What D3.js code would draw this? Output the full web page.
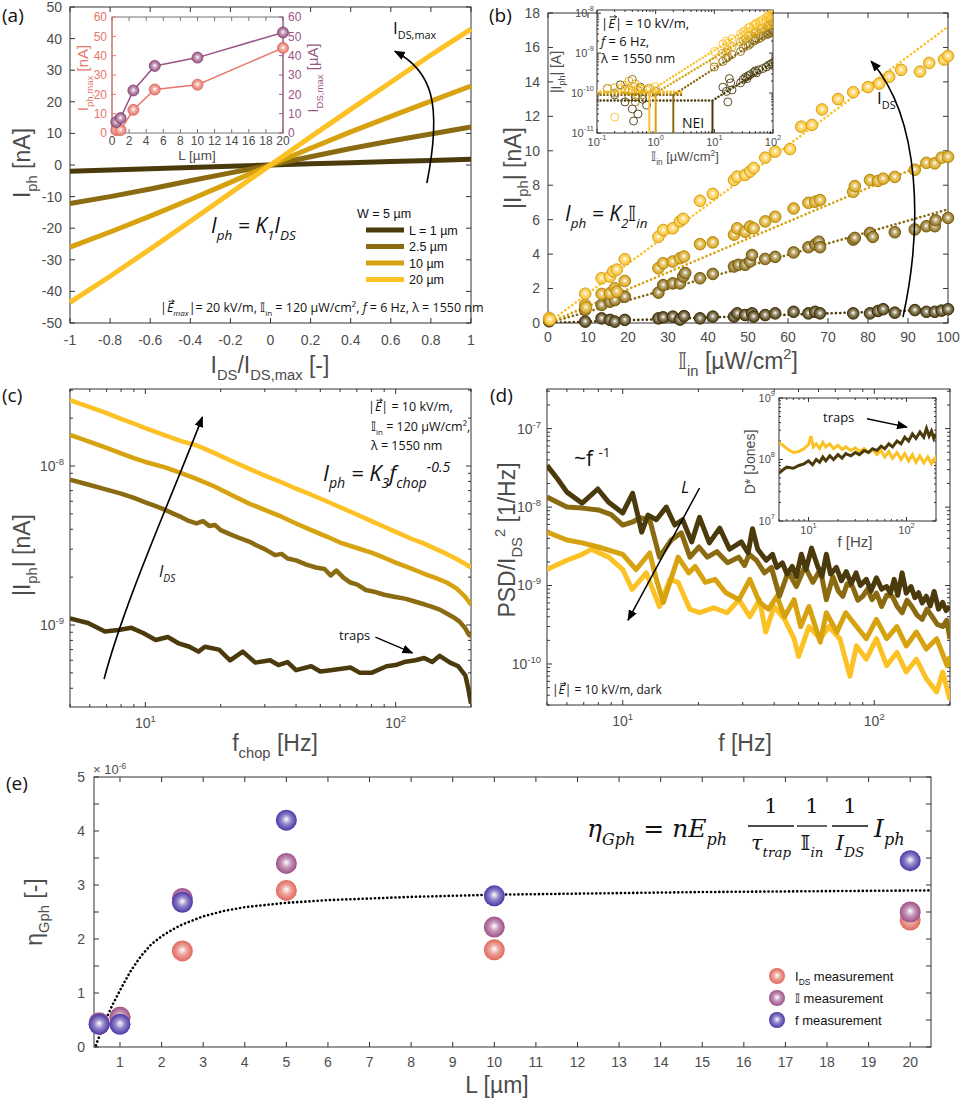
<!DOCTYPE html>
<html>
<head>
<meta charset="utf-8">
<script src="https://cdn.jsdelivr.net/npm/d3@7"></script>
<style>
body { margin: 0; background: #fff; }
text { font-family: "Liberation Sans", Arial, sans-serif; }
.note { font-family: "Open Sans", "Noto Sans", sans-serif; }
</style>
</head>
<body>
<svg id="fig" width="961" height="1108"></svg>
<script>
// ---------- data ----------
const lengthColors = ['#4b3b0c', '#8b6b12', '#d7a20f', '#fcc125'] // L = 1, 2.5, 10, 20 um
const legendLabels = ['L = 1 \u00b5m', '2.5 \u00b5m', '10 \u00b5m', '20 \u00b5m']

// (a) I_ph vs I_DS/I_DS,max
const ratioX = [-1, -0.8, -0.6, -0.4, -0.2, 0, 0.2, 0.4, 0.6, 0.8, 1]
const iphL1 = [-2.0, -1.6, -1.2, -0.8, -0.4, 0, 0.4, 0.75, 1.1, 1.45, 1.8]
const iphL25 = [-12.2, -10.0, -7.6, -5.0, -2.5, 0, 2.6, 5.2, 7.6, 9.8, 12.0]
const iphL10 = [-26.0, -21.2, -16.2, -10.9, -5.5, 0, 5.3, 10.5, 15.4, 20.2, 25.0]
const iphL20 = [-43.5, -35.2, -26.6, -17.8, -8.9, 0, 8.9, 17.6, 26.2, 34.8, 43.0]

// (a) inset
const insetL = [0.5, 1, 2.5, 5, 10, 20]
const iphMax = [1.5, 1.5, 12, 22.5, 25, 44]
const idsMax = [5.7, 7.7, 22, 34.7, 39, 52]

// (b) |I_ph| vs intensity  [uW/cm2, nA]
const bL1 = [[0.3,0.1],[9.3,0.08],[13.4,0.27],[15.5,0.18],[16.7,0.08],[19.2,0.18],[27.6,0.27],[28.8,0.33],[31.2,0.37],[33,0.2],[34,0.4],[38,0.27],[41.2,0.37],[46.5,0.37],[47.3,0.56],[49.3,0.46],[51,0.56],[51.4,0.37],[54.3,0.46],[56.8,0.56],[61.4,0.65],[65.1,0.56],[66.8,0.65],[68,0.56],[76.3,0.56],[80.5,0.56],[82.5,0.7],[83.8,0.8],[86.7,0.6],[91.7,0.75],[94.6,0.65],[96.7,0.65],[98.4,0.72],[100,0.8]]
const bL25 = [[0.3,0.15],[9.3,0.76],[13.4,1.05],[15.5,1.24],[16.7,1.33],[19.2,1.53],[27.6,1.76],[28.8,2.2],[31.2,2.3],[33,2.3],[33.8,2.7],[34.3,2.9],[38,2.6],[41.2,2.85],[46.5,3.28],[47.6,3.38],[49.3,3.38],[50.5,3.57],[51,3.95],[54.3,3.72],[56.8,3.84],[61.4,4.1],[65.1,4.4],[66.8,4.56],[67.7,4.72],[68,4.4],[76.3,4.84],[76.7,4.94],[80.5,5.23],[81.2,5.0],[86.7,5.27],[91.7,5.43],[94.6,5.62],[96.7,5.62],[96.9,5.97],[100,6.1]]
const bL10 = [[0.3,0.2],[9.3,1.05],[9.5,0.9],[13.4,1.69],[15.5,1.73],[16.7,2.02],[17.2,1.83],[19.2,2.44],[27.6,3.18],[28.8,3.47],[31.2,3.57],[33,3.76],[34,3.86],[38,4.58],[41.2,4.68],[46.5,5.13],[47.3,5.5],[49.3,5.3],[50.5,5.6],[51.4,5.5],[54.3,5.9],[56.8,6.17],[61.4,6.65],[65.1,6.98],[66.8,7.04],[68,7.14],[76.3,7.62],[76.7,7.95],[80.5,8.3],[82.5,8.25],[83.8,8.38],[86.7,8.48],[91.7,8.9],[94.6,9.3],[96.7,9.27],[98.4,9.6],[100,9.65]]
const bL20 = [[0.3,0.3],[0.5,0.2],[9.3,1.7],[13.4,2.6],[15.5,2.7],[16.3,3.0],[17.2,3.1],[19.2,3.7],[27.6,5.0],[28.8,5.4],[31.2,5.5],[33,5.9],[33.8,6.05],[38,7.1],[41.2,7.5],[46.5,8.3],[47.3,8.5],[49.3,8.6],[50.5,8.8],[51.4,9.0],[54.3,9.6],[56.8,9.95],[60.5,10.1],[63.3,11.4],[66,11.5],[68.5,12.4],[72.5,13.0],[76.3,13.4],[80,13.7],[82.8,13.9],[85.3,14.3],[88.3,14.7],[93,14.6],[95.3,15.1],[99,15.3],[100,15.5]]
const bFitEnd = [0.8, 6.6, 9.8, 17.2] // fitted I_ph at 100 uW/cm2

// (b) inset, log-log  [uW/cm2, A]
const biL1 = [[0.15,1.3e-10],[0.2,9e-11],[0.25,1.6e-10],[0.3,6e-11],[0.35,1.2e-10],[0.4,4e-11],[0.42,2e-11],[0.45,8e-11],[0.5,3e-11],[0.55,1.4e-10],[0.6,7e-11],[0.7,5e-11],[1.0,1.1e-10],[14,1.4e-10],[16,1.1e-10],[17,6e-11],[18,2.3e-10],[19,1.8e-10],[20,1.2e-10],[28,1.8e-10],[31,2.2e-10],[34,2.5e-10],[36,2.3e-10],[38,2.7e-10],[41,2.9e-10],[47,3.3e-10],[50,3.6e-10],[52,3.2e-10],[57,3.8e-10],[67,4.1e-10],[77,4.5e-10],[84,5.0e-10],[92,5.3e-10],[100,5.8e-10]]
const biL25 = [[0.2,1.0e-10],[0.3,1.25e-10],[0.35,8e-11],[0.4,2.2e-10],[0.45,6e-11],[0.5,1.15e-10],[0.6,9e-11],[0.75,1.3e-10],[10,4.5e-10],[14,6.2e-10],[16,7.4e-10],[17,8e-10],[20,9.2e-10],[28,1.1e-9],[31,1.35e-9],[34,1.6e-9],[38,1.55e-9],[41,1.7e-9],[47,2.0e-9],[50,2.1e-9],[52,2.35e-9],[57,2.3e-9],[62,2.45e-9],[67,2.7e-9],[77,2.9e-9],[81,3.1e-9],[84,3.0e-9],[88,3.2e-9],[93,3.3e-9],[97,3.5e-9],[100,3.7e-9]]
const biL10 = [[0.2,1.35e-10],[0.3,1.2e-10],[0.35,2.0e-10],[0.4,1.1e-10],[0.45,1.7e-10],[0.5,9e-11],[0.55,1.3e-10],[0.7,1.2e-10],[0.9,1.0e-10],[10,6e-10],[14,1.0e-9],[16,1.05e-9],[17,1.2e-9],[20,1.45e-9],[28,1.9e-9],[31,2.1e-9],[34,2.3e-9],[38,2.7e-9],[41,2.8e-9],[47,3.1e-9],[50,3.3e-9],[52,3.4e-9],[57,3.7e-9],[62,4.0e-9],[67,4.3e-9],[77,4.7e-9],[81,5.0e-9],[84,5.1e-9],[88,5.2e-9],[93,5.4e-9],[97,5.7e-9],[100,5.9e-9]]
const biL20 = [[0.15,1.3e-10],[0.2,2.5e-11],[0.25,1.3e-10],[0.3,1.6e-10],[0.35,1.2e-10],[0.4,1.5e-10],[0.45,1.1e-10],[0.5,1.4e-10],[0.6,1.25e-10],[0.8,1.35e-10],[1.0,1.45e-10],[10,1.1e-9],[14,1.7e-9],[16,2.0e-9],[17,1.8e-9],[20,2.3e-9],[28,3.0e-9],[31,3.4e-9],[34,3.6e-9],[38,4.3e-9],[41,4.5e-9],[47,5.0e-9],[50,5.3e-9],[52,5.6e-9],[57,6.0e-9],[62,6.2e-9],[67,6.9e-9],[77,8.0e-9],[81,8.2e-9],[84,8.6e-9],[88,8.9e-9],[93,9.0e-9],[97,9.3e-9],[100,9.6e-9]]
const neiI = [9.3, 2.0, 1.0, 0.78]
const noiseFloor = [6.5e-11, 9.0e-11, 1.0e-10, 1.1e-10]
const fitAt100 = [5.8e-10, 3.6e-9, 6.0e-9, 1.0e-8]

// (c) |I_ph| vs chopper frequency  [Hz, A]
const cL1 = [[5,1.1e-9],[5.9,1.03e-9],[6.9,9.1e-10],[7.8,9.3e-10],[8.8,9.6e-10],[9.8,8.9e-10],[11,8.05e-10],[12.3,8.4e-10],[13.5,7.7e-10],[15,7.3e-10],[16.3,6.8e-10],[17.3,7.3e-10],[19.7,7.0e-10],[21.8,6.0e-10],[24.5,6.8e-10],[27.5,5.8e-10],[31.5,6.0e-10],[34,5.6e-10],[37,5.85e-10],[40,5.2e-10],[46,5.5e-10],[50,5.1e-10],[55,5.2e-10],[66,5.4e-10],[72,5.0e-10],[80,5.0e-10],[92,5.5e-10],[100,5.6e-10],[108,5.85e-10],[120,6.0e-10],[130,6.2e-10],[140,5.85e-10],[150,6.4e-10],[165,5.8e-10],[178,5.5e-10],[190,4.8e-10],[195,4.0e-10],[200,3.2e-10]]
const cL25 = [[5,8.2e-9],[6,7.6e-9],[7,7.1e-9],[8,6.7e-9],[9,6.3e-9],[10,5.9e-9],[11,5.6e-9],[12,5.3e-9],[13,5.0e-9],[14,4.75e-9],[15,4.5e-9],[16,4.35e-9],[17,4.5e-9],[18,4.2e-9],[19,4.25e-9],[20,3.95e-9],[22,3.7e-9],[24,3.5e-9],[26,3.35e-9],[28,3.15e-9],[30,3.0e-9],[33,2.75e-9],[35,2.8e-9],[37,2.62e-9],[40,2.55e-9],[44,2.4e-9],[48,2.3e-9],[52,2.25e-9],[55,2.05e-9],[58,2.2e-9],[62,1.98e-9],[66,1.85e-9],[70,1.8e-9],[76,1.66e-9],[82,1.62e-9],[90,1.55e-9],[100,1.5e-9],[110,1.46e-9],[120,1.4e-9],[130,1.35e-9],[140,1.3e-9],[150,1.25e-9],[160,1.18e-9],[170,1.12e-9],[180,1.05e-9],[190,9.5e-10],[196,8.7e-10],[200,8.5e-10]]
const cL10 = [[5,1.57e-8],[6,1.42e-8],[7,1.3e-8],[8,1.2e-8],[9,1.12e-8],[10,1.06e-8],[12,9.8e-9],[14,9.0e-9],[16,8.3e-9],[19,7.4e-9],[22,6.6e-9],[26,5.8e-9],[30,5.3e-9],[35,4.8e-9],[40,4.35e-9],[46,3.95e-9],[53,3.6e-9],[60,3.3e-9],[70,3.05e-9],[80,2.85e-9],[90,2.65e-9],[100,2.47e-9],[115,2.27e-9],[130,2.1e-9],[145,1.97e-9],[160,1.85e-9],[175,1.7e-9],[190,1.5e-9],[200,1.34e-9]]
const cL20 = [[5,2.6e-8],[6,2.35e-8],[7,2.15e-8],[8,1.98e-8],[9,1.85e-8],[10,1.73e-8],[12,1.56e-8],[14,1.43e-8],[16,1.35e-8],[19,1.2e-8],[22,1.08e-8],[26,9.6e-9],[30,8.7e-9],[35,7.9e-9],[40,7.2e-9],[46,6.6e-9],[53,6.0e-9],[60,5.5e-9],[70,4.95e-9],[80,4.5e-9],[90,4.15e-9],[100,3.85e-9],[115,3.5e-9],[130,3.25e-9],[145,3.0e-9],[160,2.8e-9],[175,2.6e-9],[190,2.42e-9],[200,2.3e-9]]

// (d) normalised noise PSD  [Hz, 1/Hz]
const dL1 = [[5,3.4e-8],[5.5,2.3e-8],[6,1.55e-8],[6.9,1.12e-8],[7.96,1.7e-8],[8.8,1.15e-8],[10,8.4e-9],[10.95,1.5e-8],[11.9,4.8e-9],[12.6,7.9e-9],[13.6,6.9e-9],[14.9,1.0e-8],[16.1,5.9e-9],[17.3,6.9e-9],[18.8,3.6e-9],[20.2,7.4e-9],[22.1,3.5e-9],[24.3,5.4e-9],[26.6,2.9e-9],[29.6,3.6e-9],[31.5,2.6e-9],[32.8,5.3e-9],[34.4,2.9e-9],[37.2,2.1e-9],[39.4,2.5e-9],[41,1.7e-9],[43.1,1.95e-9],[45,1.4e-9],[47.2,1.75e-9],[49,1.3e-9],[51.3,2.5e-9],[53.5,1.6e-9],[56.3,3.0e-9],[59.6,1.75e-9],[62,1.3e-9],[64.5,2.5e-9],[67,1.4e-9],[70.7,1.7e-9],[74,1.15e-9],[77.4,1.5e-9],[81,1.05e-9],[84.6,1.45e-9],[88,1.0e-9],[93,1.2e-9],[97,8.5e-10],[102,1.25e-9],[107,9e-10],[112,9.7e-10],[116,8e-10],[120,1.2e-9],[124,7.5e-10],[129,1.45e-9],[134,8e-10],[140,9.7e-10],[145,7e-10],[150,8.1e-10],[155,6e-10],[161,7.3e-10],[167,5.5e-10],[173,8.4e-10],[180,5e-10],[187,6.1e-10],[193,4.8e-10],[200,5.4e-10]]
const dL25 = [[5,1.34e-8],[6,1.0e-8],[6.9,9.7e-9],[8,9.2e-9],[9,8e-9],[10,5.9e-9],[11,6.5e-9],[11.7,7.3e-9],[12.8,6.9e-9],[14,2.3e-9],[14.8,3.0e-9],[15.6,3.8e-9],[17.1,4.7e-9],[18.5,2.3e-9],[20.1,3.1e-9],[21.7,2.3e-9],[23.7,2.7e-9],[26.1,1.95e-9],[28.9,2.3e-9],[30.5,1.8e-9],[31.8,2.5e-9],[34,2.1e-9],[36.6,1.45e-9],[39,1.7e-9],[42,7.3e-10],[45.5,1.5e-9],[49,9.7e-10],[53,1.75e-9],[57,1.1e-9],[61,1.6e-9],[64.5,6.6e-10],[68.5,1.3e-9],[72,8.5e-10],[75,7.3e-10],[78,1.05e-9],[82,9.7e-10],[86,6.5e-10],[90,7.3e-10],[94,9.0e-10],[98,6.6e-10],[102,8e-10],[107,5.4e-10],[112,7.5e-10],[118,7.3e-10],[123,5.5e-10],[129,4.5e-10],[135,6.5e-10],[141,5.4e-10],[148,4.2e-10],[155,3.7e-10],[162,5e-10],[170,4.0e-10],[178,3.2e-10],[187,3.0e-10],[194,3.6e-10],[200,2.1e-10]]
const dL10 = [[5,4.8e-9],[6,3.8e-9],[6.9,3.5e-9],[8,3.1e-9],[10,2.5e-9],[11.3,1.6e-9],[12.8,2.6e-9],[13.6,1.2e-9],[14.5,6.1e-10],[16.6,2.3e-9],[18.3,1.45e-9],[19.4,1.75e-9],[21.3,1.1e-9],[23.3,1.2e-9],[25.7,8.1e-10],[29,6.6e-10],[32,1.2e-9],[35,6.1e-10],[38,5e-10],[41,7.3e-10],[44,4.0e-10],[48,6.6e-10],[51,3.0e-10],[55,5.4e-10],[61,1.9e-10],[64.5,4.5e-10],[71,2.55e-10],[77,4.5e-10],[85,3.0e-10],[93,2.1e-10],[102,3.7e-10],[112,2.1e-10],[123,3.0e-10],[134,1.7e-10],[147,2.55e-10],[161,1.55e-10],[177,2.1e-10],[195,9.5e-11],[200,1.25e-10]]
const dL20 = [[5,1.6e-9],[6,2.1e-9],[6.9,2.5e-9],[7.5,2.9e-9],[8.8,2.3e-9],[10,1.6e-9],[10.9,8.9e-10],[12.4,1.45e-9],[14,5.4e-10],[15.4,1.2e-9],[16.6,1.1e-9],[18.5,5e-10],[20.2,4.5e-10],[23,5.2e-10],[26,4.5e-10],[29,6.6e-10],[32,4.0e-10],[35,6.6e-10],[37,2.55e-10],[40,5.4e-10],[44,3.7e-10],[48,2.1e-10],[50,1.25e-10],[55,3.0e-10],[61,2.1e-10],[66,3.0e-10],[73,2.1e-10],[80,7e-11],[85,1.7e-10],[93,1.15e-10],[102,2.1e-10],[112,9.5e-11],[123,1.4e-10],[134,7.9e-11],[147,1.15e-10],[161,6.5e-11],[177,4.4e-11],[187,7.9e-11],[200,3.5e-11]]

// (d) inset detectivity  [Hz, Jones]
const dStarL1 = [[5,6e7],[5.5,6.8e7],[6,7.5e7],[7,7.2e7],[8,8e7],[9,8.5e7],[10,9.5e7],[11,8.2e7],[12,1.0e8],[13,9e7],[14,1.1e8],[15,9.5e7],[16.5,1.15e8],[18,1.0e8],[20,1.2e8],[22,1.05e8],[24,1.25e8],[27,1.15e8],[30,1.3e8],[33,1.2e8],[37,1.4e8],[41,1.3e8],[45,1.5e8],[50,1.4e8],[55,1.65e8],[60,1.5e8],[66,1.8e8],[72,1.6e8],[80,2.0e8],[88,1.8e8],[96,2.3e8],[105,2.0e8],[115,2.6e8],[125,2.2e8],[137,2.8e8],[150,2.3e8],[160,3.2e8],[170,2.4e8],[180,2.9e8],[190,2.2e8],[200,2.6e8]]
const dStarL20 = [[5,1.9e8],[5.5,1.7e8],[6.2,1.45e8],[7,1.3e8],[8,1.35e8],[9,1.5e8],[10,1.75e8],[10.6,2.4e8],[11.2,1.6e8],[12,1.8e8],[13,1.5e8],[14,1.9e8],[15,1.6e8],[16.5,1.8e8],[18,1.5e8],[20,1.7e8],[22,1.45e8],[24,1.6e8],[27,1.4e8],[30,1.55e8],[33,1.35e8],[37,1.5e8],[41,1.3e8],[45,1.45e8],[50,1.2e8],[55,1.4e8],[60,1.1e8],[66,1.35e8],[72,1.05e8],[80,1.3e8],[88,1.0e8],[96,1.25e8],[105,9.5e7],[115,1.2e8],[125,9e7],[137,1.15e8],[150,8.8e7],[165,1.1e8],[180,8.5e7],[195,1.05e8],[200,9e7]]

// (e) photoconductive gain vs channel length
const eL = [0.5, 1, 2.5, 5, 10, 20]
const etaIds = [0.42, 0.55, 1.78, 2.9, 1.8, 2.35]
const etaIin = [0.45, 0.55, 2.75, 3.4, 2.22, 2.5]
const etaF = [0.42, 0.42, 2.68, 4.2, 2.8, 3.45]
const eFitL = [0.42, 0.6, 0.8, 1.0, 1.25, 1.5, 1.75, 2.0, 2.25, 2.5, 3, 3.5, 4, 5, 6, 7, 8, 10, 12, 15, 20.5]
const eFitEta = [0.03, 0.4, 0.75, 1.05, 1.4, 1.68, 1.9, 2.05, 2.17, 2.27, 2.42, 2.52, 2.59, 2.67, 2.72, 2.75, 2.78, 2.82, 2.84, 2.87, 2.9]
const eColors = ['#e0685c', '#9c5088', '#4b36a6']

// ---------- helpers ----------
const svg = d3.select('#fig')
const defs = svg.append('defs')
const tickText = '#4d4d4d'

defs.append('marker').attr('id', 'arrow').attr('viewBox', '0 0 10 10')
    .attr('refX', 9).attr('refY', 5).attr('markerWidth', 11).attr('markerHeight', 11)
    .attr('markerUnits', 'userSpaceOnUse').attr('orient', 'auto')
    .append('path').attr('d', 'M0,1 L10,5 L0,9 Z').attr('fill', '#000')

let sphere = (id, color) => {
    let g = defs.append('radialGradient').attr('id', id)
        .attr('cx', '50%').attr('cy', '50%').attr('r', '50%').attr('fx', '50%').attr('fy', '45%')
    g.append('stop').attr('offset', '0%').attr('stop-color', '#ffffff')
    g.append('stop').attr('offset', '45%').attr('stop-color', d3.interpolateRgb(color, '#ffffff')(0.4))
    g.append('stop').attr('offset', '100%').attr('stop-color', color)
}
lengthColors.forEach((c, i) => sphere('sb' + i, c))
eColors.forEach((c, i) => sphere('se' + i, c))
sphere('sred', '#e8766a')
sphere('spur', '#9a5585')

let clip = (id, xs, ys) => {
    defs.append('clipPath').attr('id', id).append('rect')
        .attr('x', xs.range()[0]).attr('y', ys.range()[1])
        .attr('width', xs.range()[1] - xs.range()[0]).attr('height', ys.range()[0] - ys.range()[1])
}

let plainFmt = (t, v) => t.text(String(+v.toFixed(2)))
let powFmt = (t, v) => {
    let e = Math.round(Math.log10(v))
    t.append('tspan').text('10')
    t.append('tspan').text(e).attr('dy', -6).attr('font-size', '0.68em')
}

let logMajors = (lo, hi) => {
    let out = []
    for (let d = Math.floor(Math.log10(lo)); d <= Math.ceil(Math.log10(hi)); d++) {
        let v = Math.pow(10, d)
        if (v >= lo * 0.999 && v <= hi * 1.001) out.push(v)
    }
    return out
}
let logMinors = (lo, hi) => {
    let out = []
    for (let d = Math.floor(Math.log10(lo)) - 1; d <= Math.ceil(Math.log10(hi)); d++) {
        for (let m = 2; m <= 9; m++) {
            let v = m * Math.pow(10, d)
            if (v >= lo && v <= hi) out.push(v)
        }
    }
    return out
}

// box with inward ticks on all four sides (matlab style)
let frame = (g, xs, ys, o) => {
    let [x0, x1] = xs.range(), [y0, y1] = ys.range()
    let tl = o.tickLen || 5, ml = o.minorLen || 3
    let col = o.color || '#333'
    if (o.fill) g.append('rect').attr('x', x0).attr('y', y1).attr('width', x1 - x0).attr('height', y0 - y1).attr('fill', o.fill)
    let t = g.append('g').attr('stroke', col).attr('stroke-width', 1)
    let seg = (a, b, c, d) => t.append('line').attr('x1', a).attr('y1', b).attr('x2', c).attr('y2', d)
    ;(o.xTicks || []).forEach(v => { let x = xs(v); seg(x, y0, x, y0 - tl); seg(x, y1, x, y1 + tl) })
    ;(o.xMinor || []).forEach(v => { let x = xs(v); seg(x, y0, x, y0 - ml); seg(x, y1, x, y1 + ml) })
    ;(o.yTicks || []).forEach(v => { let y = ys(v); seg(x0, y, x0 + tl, y); seg(x1, y, x1 - tl, y) })
    ;(o.yMinor || []).forEach(v => { let y = ys(v); seg(x0, y, x0 + ml, y); seg(x1, y, x1 - ml, y) })
    g.append('rect').attr('x', x0).attr('y', y1).attr('width', x1 - x0).attr('height', y0 - y1)
        .attr('fill', 'none').attr('stroke', col).attr('stroke-width', 1)
    let fs = o.fontSize || 13
    let lab = g.append('g').attr('fill', tickText).attr('font-size', fs)
    ;(o.xLabels || o.xTicks || []).forEach(v => {
        let tx = lab.append('text').attr('x', xs(v)).attr('y', y0 + (o.xGap || fs + 5)).attr('text-anchor', 'middle')
        ;(o.xFmt || plainFmt)(tx, v)
    })
    ;(o.yLabels || o.yTicks || []).forEach(v => {
        let tx = lab.append('text').attr('x', x0 - (o.yGap || 6)).attr('y', ys(v)).attr('dy', '0.35em').attr('text-anchor', 'end')
        ;(o.yFmt || plainFmt)(tx, v)
    })
}

// text with sub/superscripts: parts = ['txt', ['ph','sub'], ['x','sup'], ['E','vec']]
let rich = (g, x, y, parts, o = {}) => {
    let size = o.size || 14
    let t = g.append('text').attr('x', x).attr('y', y).attr('font-size', size)
    if (o.anchor) t.attr('text-anchor', o.anchor)
    if (o.cls) t.attr('class', o.cls)
    if (o.family) t.style('font-family', o.family)
    if (o.fill) t.attr('fill', o.fill)
    if (o.italic) t.attr('font-style', 'italic')
    let shift = 0, vecs = []
    parts.forEach(p => {
        let [s, kind, it] = typeof p === 'string' ? [p, 'n', undefined] : p
        let target = kind === 'sub' ? size * 0.32 : kind === 'sup' ? -size * 0.42 : 0
        let ts = t.append('tspan').attr('dy', target - shift).text(s)
        if (kind === 'sub' || kind === 'sup') ts.attr('font-size', size * 0.64)
        if (kind === 'vec') { ts.attr('font-style', 'italic'); vecs.push(ts) }
        if (it === true) ts.attr('font-style', 'italic')
        if (it === false) ts.attr('font-style', 'normal')
        shift = target
    })
    // small arrow over vector symbols
    vecs.forEach(ts => {
        let b = ts.node().getBBox()
        let yy = y - size * 0.86, xa = b.x + 1.5, xb = b.x + b.width + 0.5
        g.append('path').attr('d', `M${xa},${yy} L${xb},${yy} M${xb - 2.4},${yy - 1.6} L${xb},${yy} L${xb - 2.4},${yy + 1.6}`)
            .attr('fill', 'none').attr('stroke', o.fill || '#111').attr('stroke-width', 0.8)
    })
    return t
}
let vlabel = (g, x, y, parts, o) => {
    let gg = g.append('g').attr('transform', `translate(${x},${y}) rotate(-90)`)
    return rich(gg, 0, 0, parts, Object.assign({ anchor: 'middle' }, o))
}
let arrow = (g, pts, w) => {
    let d = `M${pts[0]} C${pts[1]} ${pts[2]} ${pts[3]}`
    g.append('path').attr('d', d).attr('fill', 'none').attr('stroke', '#000')
        .attr('stroke-width', w || 1.6).attr('marker-end', 'url(#arrow)')
}
let straightArrow = (g, p0, p1, w) => {
    g.append('line').attr('x1', p0[0]).attr('y1', p0[1]).attr('x2', p1[0]).attr('y2', p1[1])
        .attr('stroke', '#000').attr('stroke-width', w || 1.5).attr('marker-end', 'url(#arrow)')
}
let panelTag = (s, x, y) => svg.append('text').attr('class', 'note').attr('x', x).attr('y', y)
    .attr('font-size', 19).attr('fill', '#111').text(s)

const dblI = '\u{1D540}'

// ================= (a) =================
{
    let g = svg.append('g')
    let xs = d3.scaleLinear().domain([-1, 1]).range([70, 471])
    let ys = d3.scaleLinear().domain([-50, 50]).range([323, 7])
    frame(g, xs, ys, { xTicks: d3.range(-1, 1.01, 0.2).map(v => +v.toFixed(1)), yTicks: d3.range(-50, 51, 10), fontSize: 14, xGap: 22, yGap: 8 })
    let series = [iphL1, iphL25, iphL10, iphL20]
    let line = d3.line().x((d, i) => xs(ratioX[i])).y(d => ys(d))
    series.forEach((s, i) => g.append('path').attr('d', line(s)).attr('fill', 'none')
        .attr('stroke', lengthColors[i]).attr('stroke-width', 5))

    // annotations
    arrow(g, [[xs(0.78), ys(-5.7)], [xs(0.86), ys(20)], [xs(0.8), ys(30)], [xs(0.62), ys(36)]])
    rich(g, 393, 34, ['I', ['DS,max', 'sub']], { size: 17, cls: 'note', fill: '#111' })
    rich(g, 211, 233, ['I', ['ph', 'sub'], ' = K', ['1', 'sub'], 'I', ['DS', 'sub']], { size: 21, cls: 'note', italic: true, fill: '#111' })
    let lg = g.append('g').attr('class', 'note').attr('font-size', 12.5).attr('fill', '#111')
    lg.append('text').attr('x', 357).attr('y', 218).text('W = 5 \u00b5m')
    legendLabels.forEach((l, i) => {
        let y = 230 + i * 16.5
        lg.append('line').attr('x1', 366).attr('x2', 404).attr('y1', y).attr('y2', y)
            .attr('stroke', lengthColors[i]).attr('stroke-width', 5)
        lg.append('text').attr('x', 409).attr('y', y + 4.5).text(l)
    })
    rich(g, 160, 312, ['|', ['E', 'vec'], ['max', 'sub', true], '|= 20 kV/m, ', dblI, ['in', 'sub'], ' = 120 \u00b5W/cm\u00b2, ', ['f', 'n', true], ' = 6 Hz, \u03bb = 1550 nm'], { size: 12.5, cls: 'note', fill: '#111' })

    // axis titles
    rich(g, 270, 373, ['I', ['DS', 'sub'], '/I', ['DS,max', 'sub'], '  [-]'], { size: 23, anchor: 'middle', fill: tickText })
    vlabel(g, 30, 163, ['I', ['ph', 'sub'], ' [nA]'], { size: 23, fill: tickText })

    // inset
    let ix = d3.scaleLinear().domain([0, 20]).range([112, 283])
    let iy = d3.scaleLinear().domain([0, 60]).range([133, 17])
    let ig = g.append('g')
    ig.append('rect').attr('x', 112).attr('y', 17).attr('width', 171).attr('height', 116).attr('fill', '#fff')
    frame(ig, ix, iy, { xTicks: d3.range(0, 21, 2), fontSize: 12, xGap: 12, color: '#777', tickLen: 4 })
    let red = '#e8766a', pur = '#9a5585'
    let ax = ig.append('g')
    ax.append('line').attr('x1', 112).attr('x2', 112).attr('y1', 17).attr('y2', 133).attr('stroke', red)
    ax.append('line').attr('x1', 283).attr('x2', 283).attr('y1', 17).attr('y2', 133).attr('stroke', pur)
    d3.range(0, 61, 10).forEach(v => {
        ax.append('line').attr('x1', 112).attr('x2', 116).attr('y1', iy(v)).attr('y2', iy(v)).attr('stroke', red)
        ax.append('line').attr('x1', 283).attr('x2', 279).attr('y1', iy(v)).attr('y2', iy(v)).attr('stroke', pur)
        ax.append('text').attr('x', 107).attr('y', iy(v)).attr('dy', '0.35em').attr('text-anchor', 'end')
            .attr('font-size', 12).attr('fill', red).text(v)
        ax.append('text').attr('x', 288).attr('y', iy(v)).attr('dy', '0.35em')
            .attr('font-size', 12).attr('fill', pur).text(v)
    })
    let ln = vals => d3.line().x((d, i) => ix(insetL[i])).y(d => iy(d))(vals)
    ig.append('path').attr('d', ln(iphMax)).attr('fill', 'none').attr('stroke', red).attr('stroke-width', 1.5)
    ig.append('path').attr('d', ln(idsMax)).attr('fill', 'none').attr('stroke', pur).attr('stroke-width', 1.5)
    insetL.forEach((l, i) => {
        ig.append('circle').attr('cx', ix(l)).attr('cy', iy(iphMax[i])).attr('r', 5.5).attr('fill', 'url(#sred)').attr('stroke', '#d8655a').attr('stroke-width', 0.8)
    })
    insetL.forEach((l, i) => {
        ig.append('circle').attr('cx', ix(l)).attr('cy', iy(idsMax[i])).attr('r', 5.5).attr('fill', 'url(#spur)').attr('stroke', '#80406c').attr('stroke-width', 0.8)
    })
    rich(ig, 197, 160, ['L  [\u00b5m]'], { size: 13.5, anchor: 'middle', fill: tickText })
    vlabel(ig, 88, 78, ['I', ['ph,max', 'sub'], ' [nA]'], { size: 15, fill: red })
    vlabel(ig, 318, 78, ['I', ['DS,max', 'sub'], ' [\u00b5A]'], { size: 15, fill: pur })
}

// ================= (b) =================
{
    let g = svg.append('g')
    let xs = d3.scaleLinear().domain([0, 100]).range([548, 948])
    let ys = d3.scaleLinear().domain([0, 18]).range([323, 13])
    frame(g, xs, ys, { xTicks: d3.range(0, 101, 10), yTicks: d3.range(0, 19, 2), fontSize: 14, xGap: 19, yGap: 8 })
    clip('clipB', xs, ys)
    let all = [bL1, bL25, bL10, bL20]
    let fg = g.append('g').attr('clip-path', 'url(#clipB)')
    all.forEach((s, i) => {
        fg.append('line').attr('x1', xs(0)).attr('y1', ys(0)).attr('x2', xs(100)).attr('y2', ys(bFitEnd[i]))
            .attr('stroke', lengthColors[i]).attr('stroke-width', 2.6).attr('stroke-dasharray', '0.1,4.2').attr('stroke-linecap', 'round')
    })
    all.forEach((s, i) => {
        g.append('g').selectAll('circle').data(s).enter().append('circle')
            .attr('cx', d => xs(d[0])).attr('cy', d => ys(d[1])).attr('r', 5.8)
            .attr('fill', `url(#sb${i})`).attr('stroke', d3.color(lengthColors[i]).darker(0.5)).attr('stroke-width', 1)
    })
    arrow(g, [[xs(88.75), ys(0.35)], [xs(93.5), ys(5.4)], [xs(93.5), ys(11.8)], [xs(80.8), ys(15.2)]])
    rich(g, 877, 104, ['I', ['DS', 'sub']], { size: 17, cls: 'note', fill: '#111' })
    rich(g, 565, 221, ['I', ['ph', 'sub'], ' = K', ['2', 'sub'], [dblI, 'n', false], ['in', 'sub']], { size: 21, cls: 'note', italic: true, fill: '#111' })
    rich(g, 738, 369, [dblI, ['in', 'sub'], ' [\u00b5W/cm', ['2', 'sup'], ']'], { size: 23, anchor: 'middle', fill: tickText })
    vlabel(g, 521, 168, ['|I', ['ph', 'sub'], '| [nA]'], { size: 23, fill: tickText })

    // inset
    let ix = d3.scaleLog().domain([0.1, 100]).range([597, 773])
    let iy = d3.scaleLog().domain([1e-11, 1.2e-8]).range([133, 10])
    let ig = g.append('g')
    frame(ig, ix, iy, { fill: '#fff', xTicks: logMajors(0.1, 100), xMinor: logMinors(0.1, 100), yTicks: logMajors(1e-11, 1.2e-8), yMinor: logMinors(1e-11, 1.2e-8),
        xFmt: powFmt, yFmt: powFmt, fontSize: 11, xGap: 13, yGap: 3, tickLen: 4, minorLen: 2 })
    clip('clipBi', ix, iy)
    let pg = ig.append('g').attr('clip-path', 'url(#clipBi)')
    let ins = [biL1, biL25, biL10, biL20]
    ins.forEach((s, i) => {
        pg.append('g').selectAll('circle').data(s).enter().append('circle')
            .attr('cx', d => ix(d[0])).attr('cy', d => iy(d[1])).attr('r', 4)
            .attr('fill', 'none').attr('stroke', lengthColors[i]).attr('stroke-width', 0.9)
    })
    ins.forEach((s, i) => {
        let c = lengthColors[i]
        pg.append('line').attr('x1', ix(0.1)).attr('x2', ix(Math.max(neiI[i], 3))).attr('y1', iy(noiseFloor[i])).attr('y2', iy(noiseFloor[i]))
            .attr('stroke', c).attr('stroke-width', 2.4).attr('stroke-dasharray', '0.1,3.4').attr('stroke-linecap', 'round')
        pg.append('line').attr('x1', ix(neiI[i])).attr('x2', ix(100)).attr('y1', iy(noiseFloor[i])).attr('y2', iy(fitAt100[i]))
            .attr('stroke', c).attr('stroke-width', 2.4).attr('stroke-dasharray', '0.1,3.4').attr('stroke-linecap', 'round')
        pg.append('line').attr('x1', ix(neiI[i])).attr('x2', ix(neiI[i])).attr('y1', iy(1e-11)).attr('y2', iy(noiseFloor[i]))
            .attr('stroke', c).attr('stroke-width', 2)
    })
    let nt = ig.append('g').attr('fill', '#111')
    rich(nt, 601, 28, ['|', ['E', 'vec'], '| = 10 kV/m,'], { size: 13, cls: 'note' })
    rich(nt, 601, 46, [['f', 'n', true], ' = 6 Hz,'], { size: 13, cls: 'note' })
    rich(nt, 601, 63, ['\u03bb = 1550 nm'], { size: 13, cls: 'note' })
    nt.append('text').attr('class', 'note').attr('x', 682).attr('y', 128).attr('font-size', 14).text('NEI')
    rich(ig, 685, 161, [dblI, ['in', 'sub'], ' [\u00b5W/cm', ['2', 'sup'], ']'], { size: 13, anchor: 'middle', fill: tickText })
    vlabel(ig, 561, 72, ['|I', ['ph', 'sub'], '| [A]'], { size: 14, fill: tickText })
}

// ================= (c) =================
{
    let g = svg.append('g')
    let xs = d3.scaleLog().domain([5, 200]).range([70, 471])
    let ys = d3.scaleLog().domain([3.05e-10, 3.05e-8]).range([707, 389])
    frame(g, xs, ys, { xTicks: logMajors(5, 200), xMinor: logMinors(5, 200), yTicks: logMajors(3.05e-10, 3.05e-8), yMinor: logMinors(3.05e-10, 3.05e-8),
        xFmt: powFmt, yFmt: powFmt, fontSize: 14, xGap: 21, yGap: 6 })
    clip('clipC', xs, ys)
    let pg = g.append('g').attr('clip-path', 'url(#clipC)')
    let line = d3.line().x(d => xs(d[0])).y(d => ys(d[1]))
    ;[cL1, cL25, cL10, cL20].forEach((s, i) => pg.append('path').attr('d', line(s)).attr('fill', 'none')
        .attr('stroke', lengthColors[i]).attr('stroke-width', 4.5).attr('stroke-linejoin', 'round'))
    arrow(g, [[xs(6.84), ys(4.57e-10)], [xs(8.3), ys(1.44e-9)], [xs(12.6), ys(6.1e-9)], [xs(16.9), ys(2.03e-8)]])
    rich(g, 159, 577, ['I', ['DS', 'sub']], { size: 16, cls: 'note', italic: true, fill: '#111' })
    g.append('text').attr('class', 'note').attr('x', 339).attr('y', 640).attr('font-size', 13).attr('fill', '#111').text('traps')
    straightArrow(g, [xs(83), ys(8.4e-10)], [xs(116.7), ys(6.67e-10)], 1.3)
    rich(g, 368, 411, ['|', ['E', 'vec'], '| = 10 kV/m,'], { size: 12.5, cls: 'note', fill: '#111' })
    rich(g, 371, 431, [dblI, ['in', 'sub'], ' = 120 \u00b5W/cm\u00b2,'], { size: 12.5, cls: 'note', fill: '#111' })
    rich(g, 371, 450, ['\u03bb = 1550 nm'], { size: 12.5, cls: 'note', fill: '#111' })
    rich(g, 323, 481, ['I', ['ph', 'sub'], ' = K', ['3', 'sub'], 'f', ['chop', 'sub'], ['-0.5', 'sup']], { size: 22, cls: 'note', italic: true, fill: '#111' })
    rich(g, 275, 751, ['f', ['chop', 'sub'], ' [Hz]'], { size: 23, anchor: 'middle', fill: tickText })
    vlabel(g, 30, 555, ['|I', ['ph', 'sub'], '| [nA]'], { size: 23, fill: tickText })
}

// ================= (d) =================
{
    let g = svg.append('g')
    let xs = d3.scaleLog().domain([5, 200]).range([547, 950])
    let ys = d3.scaleLog().domain([3e-11, 3.2e-7]).range([705, 389])
    frame(g, xs, ys, { xTicks: logMajors(5, 200), xMinor: logMinors(5, 200), yTicks: logMajors(3e-11, 3.2e-7), yMinor: logMinors(3e-11, 3.2e-7),
        xFmt: powFmt, yFmt: powFmt, fontSize: 14, xGap: 21, yGap: 6 })
    clip('clipD', xs, ys)
    let pg = g.append('g').attr('clip-path', 'url(#clipD)')
    let line = d3.line().x(d => xs(d[0])).y(d => ys(d[1]))
    let order = [[dL20, 3], [dL10, 2], [dL25, 1], [dL1, 0]]
    order.forEach(([s, i]) => pg.append('path').attr('d', line(s)).attr('fill', 'none')
        .attr('stroke', lengthColors[i]).attr('stroke-width', 5).attr('stroke-linejoin', 'round'))
    rich(g, 574, 466, ['~f ', ['-1', 'sup']], { size: 21, cls: 'note', fill: '#111' })
    g.append('text').attr('class', 'note').attr('x', 681).attr('y', 493).attr('font-size', 17).attr('font-style', 'italic').attr('fill', '#111').text('L')
    straightArrow(g, [xs(20.2), ys(1.75e-8)], [xs(10.5), ys(3.63e-10)], 1.5)
    rich(g, 552, 694, ['|', ['E', 'vec'], '| = 10 kV/m, dark'], { size: 12, cls: 'note', fill: '#111' })
    rich(g, 745, 751, ['f [Hz]'], { size: 23, anchor: 'middle', fill: tickText })
    vlabel(g, 515, 540, ['PSD/I', ['DS', 'sub'], ['2', 'sup'], ' [1/Hz]'], { size: 23, fill: tickText })

    // inset
    let ix = d3.scaleLog().domain([5, 200]).range([779, 936])
    let iy = d3.scaleLog().domain([1e7, 1e9]).range([521, 398])
    let ig = g.append('g')
    frame(ig, ix, iy, { fill: '#fff', xTicks: logMajors(5, 200), xMinor: logMinors(5, 200), yTicks: logMajors(1e7, 1e9), yMinor: logMinors(1e7, 1e9),
        xFmt: powFmt, yFmt: powFmt, fontSize: 11, xGap: 13, yGap: 4, tickLen: 4, minorLen: 2 })
    clip('clipDi', ix, iy)
    let ip = ig.append('g').attr('clip-path', 'url(#clipDi)')
    let iline = d3.line().x(d => ix(d[0])).y(d => iy(d[1]))
    ip.append('path').attr('d', iline(dStarL20)).attr('fill', 'none').attr('stroke', lengthColors[3]).attr('stroke-width', 3)
    ip.append('path').attr('d', iline(dStarL1)).attr('fill', 'none').attr('stroke', lengthColors[0]).attr('stroke-width', 3)
    ig.append('text').attr('class', 'note').attr('x', 823).attr('y', 422).attr('font-size', 13).attr('fill', '#111').text('traps')
    straightArrow(ig, [ix(39.5), iy(4.6e8)], [ix(101), iy(3.37e8)], 1.3)
    rich(ig, 855, 547, ['f [Hz]'], { size: 15, anchor: 'middle', fill: tickText })
    vlabel(ig, 755, 462, ['D* [Jones]'], { size: 14, fill: tickText })
}

// ================= (e) =================
{
    let g = svg.append('g')
    let xs = d3.scaleLinear().domain([0.375, 20.5]).range([94, 931])
    let ys = d3.scaleLinear().domain([0, 5]).range([1047, 777])
    frame(g, xs, ys, { xTicks: d3.range(1, 21), yTicks: d3.range(0, 5.01, 0.5), yLabels: d3.range(0, 6), fontSize: 14, xGap: 20, yGap: 9 })
    let fit = d3.line().x((d, i) => xs(eFitL[i])).y(d => ys(d))
    g.append('path').attr('d', fit(eFitEta)).attr('fill', 'none').attr('stroke', '#000')
        .attr('stroke-width', 2.6).attr('stroke-dasharray', '0.1,4').attr('stroke-linecap', 'round')
    ;[etaIds, etaIin, etaF].forEach((s, k) => {
        g.append('g').selectAll('circle').data(s).enter().append('circle')
            .attr('cx', (d, i) => xs(eL[i])).attr('cy', d => ys(d)).attr('r', 10.5)
            .attr('fill', `url(#se${k})`)
    })
    rich(g, 93, 774, ['\u00d7 10', ['-6', 'sup']], { size: 13, fill: tickText })
    // legend
    let lg = g.append('g')
    let legendText = [['I', ['DS', 'sub'], ' measurement'], [dblI, ' measurement'], ['f measurement']]
    legendText.forEach((p, k) => {
        let y = 976 + k * 22
        lg.append('circle').attr('cx', 777).attr('cy', y).attr('r', 8).attr('fill', `url(#se${k})`)
        rich(lg, 795, y + 5, p, { size: 13, fill: '#111' })
    })
    // formula
    const serif = '"DejaVu Serif", serif'
    let fg = g.append('g').attr('fill', '#111')
    rich(fg, 587, 837, [['\u03b7', 'n', true], ['Gph', 'sub', true], ' = ', ['nE', 'n', true], ['ph', 'sub', true]], { size: 25, family: serif })
    let frac = (cx, half, den) => {
        fg.append('text').attr('x', cx).attr('y', 813).attr('text-anchor', 'middle').attr('font-size', 21).style('font-family', serif).text('1')
        fg.append('line').attr('x1', cx - half).attr('x2', cx + half).attr('y1', 826).attr('y2', 826).attr('stroke', '#111').attr('stroke-width', 1.3)
        rich(fg, cx, 850, den, { size: 21, anchor: 'middle', family: serif, italic: true })
    }
    frac(771, 23, ['\u03c4', ['trap', 'sub']])
    frac(812, 15, [[dblI, 'n', false], ['in', 'sub']])
    frac(850, 18, ['I', ['DS', 'sub']])
    rich(fg, 874, 837, ['I', ['ph', 'sub']], { size: 25, family: serif, italic: true })
    rich(g, 497, 1093, ['L [\u00b5m]'], { size: 23, anchor: 'middle', fill: tickText })
    vlabel(g, 42, 912, ['\u03b7', ['Gph', 'sub'], ' [-]'], { size: 23, fill: tickText })
}

panelTag('(a)', 2, 22)
panelTag('(b)', 489, 22)
panelTag('(c)', 2, 402)
panelTag('(d)', 490, 402)
panelTag('(e)', 6, 790)
</script>
</body>
</html>
